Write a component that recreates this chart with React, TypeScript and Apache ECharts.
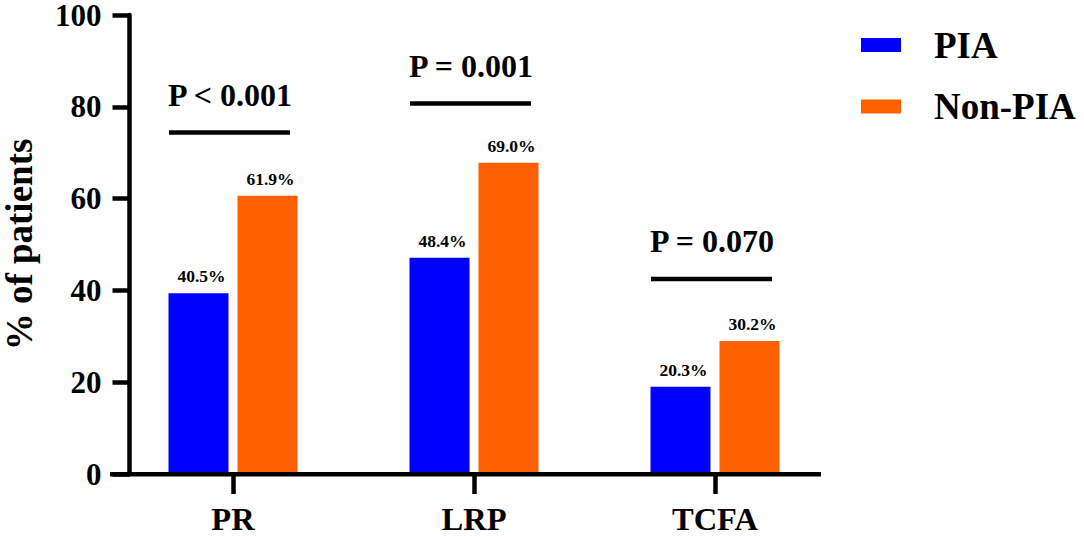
import React, { useEffect, useRef } from "react";
import * as echarts from "echarts";

const categories = ["PR", "LRP", "TCFA"];
const piaValues = [39.4, 47.1, 19.0];
const nonPiaValues = [60.6, 67.8, 29.0];
const piaLabels = ["40.5%", "48.4%", "20.3%"];
const nonPiaLabels = ["61.9%", "69.0%", "30.2%"];
const pValueTexts = ["P < 0.001", "P = 0.001", "P = 0.070"];
const pLineLevels = [74.4, 80.7, 42.5];
const yTicks = [0, 20, 40, 60, 80, 100];

const FONT = "'Liberation Serif', 'Times New Roman', serif";

export default function App() {
  const ref = useRef<HTMLDivElement>(null);
  useEffect(() => {
    if (!ref.current) return;
    const chart = echarts.init(ref.current, undefined, { renderer: "svg" });
    const option: any = {
      animation: false,
      backgroundColor: "#ffffff",
      grid: {
        left: 112.5,
        top: 15,
        width: 723,
        height: 459,
        containLabel: false,
        outerBoundsMode: "none",
      },
      legend: {
        orient: "vertical",
        left: 861,
        top: 25,
        padding: 0,
        itemWidth: 40,
        itemHeight: 14,
        itemGap: 21.5,
        icon: "rect",
        data: ["PIA", "Non-PIA"],
        textStyle: {
          fontFamily: FONT,
          fontWeight: "bold",
          fontSize: 37,
          color: "#000",
          lineHeight: 40,
          padding: [0, 0, 0, 28],
        },
      },
      xAxis: {
        type: "category",
        data: categories,
        axisLine: { show: false },
        axisTick: {
          show: true,
          alignWithLabel: true,
          length: 20,
          lineStyle: { color: "#000", width: 4.5 },
        },
        axisLabel: {
          margin: 28,
          fontFamily: FONT,
          fontWeight: "bold",
          fontSize: 32.5,
          color: "#000",
        },
        splitLine: { show: false },
      },
      yAxis: {
        type: "value",
        min: yTicks[0],
        max: yTicks[yTicks.length - 1],
        interval: 20,
        offset: -17,
        name: "% of patients",
        nameLocation: "middle",
        nameRotate: 90,
        nameGap: 95,
        nameTextStyle: {
          fontFamily: FONT,
          fontWeight: "bold",
          fontSize: 37,
          lineHeight: 30,
          color: "#000",
        },
        axisLine: { show: true, lineStyle: { color: "#000", width: 4.5 } },
        axisTick: { show: true, length: 17, lineStyle: { color: "#000", width: 4.5 } },
        axisLabel: {
          margin: 28,
          fontFamily: FONT,
          fontWeight: "bold",
          fontSize: 31,
          lineHeight: 26,
          color: "#000",
        },
        splitLine: { show: false },
      },
      graphic: [
        {
          type: "line",
          shape: { x1: 110, y1: 474.2, x2: 821, y2: 474.2 },
          style: { stroke: "#000", lineWidth: 4.5 },
          z: 100,
        },
      ],
      series: [
        {
          name: "PIA",
          type: "bar",
          data: piaValues,
          barWidth: 60,
          barGap: "15%",
          itemStyle: { color: "#0000ff" },
          label: {
            show: true,
            position: "top",
            distance: 8,
            offset: [3, 0],
            formatter: (p: any) => piaLabels[p.dataIndex],
            fontFamily: FONT,
            fontWeight: "bold",
            fontSize: 17.5,
            color: "#000",
          },
        },
        {
          name: "Non-PIA",
          type: "bar",
          data: nonPiaValues,
          barWidth: 60,
          barGap: "15%",
          itemStyle: { color: "#ff6000" },
          label: {
            show: true,
            position: "top",
            distance: 8,
            offset: [3, 0],
            formatter: (p: any) => nonPiaLabels[p.dataIndex],
            fontFamily: FONT,
            fontWeight: "bold",
            fontSize: 17.5,
            color: "#000",
          },
        },
        {
          name: "pvalues",
          type: "custom",
          data: pLineLevels.map((v, i) => [i, v]),
          z: 10,
          renderItem: (params: any, api: any) => {
            const pt = api.coord([api.value(0), api.value(1)]);
            const cx = pt[0] - 2;
            const cy = pt[1];
            return {
              type: "group",
              children: [
                {
                  type: "line",
                  shape: { x1: cx - 62, y1: cy, x2: cx + 59, y2: cy },
                  style: { stroke: "#000", lineWidth: 4.5 },
                },
                {
                  type: "text",
                  x: cx - 1,
                  y: cy - 22,
                  style: {
                    text: pValueTexts[params.dataIndex],
                    fontFamily: FONT,
                    fontWeight: "bold",
                    fontSize: 32,
                    fill: "#000",
                    align: "center",
                    verticalAlign: "bottom",
                  },
                },
              ],
            };
          },
        },
      ],
    };
    chart.setOption(option);
    return () => chart.dispose();
  }, []);
  return (
    <div
      ref={ref}
      style={{ position: "fixed", left: 0, top: 0, width: 1084, height: 537, background: "#fff" }}
    />
  );
}
